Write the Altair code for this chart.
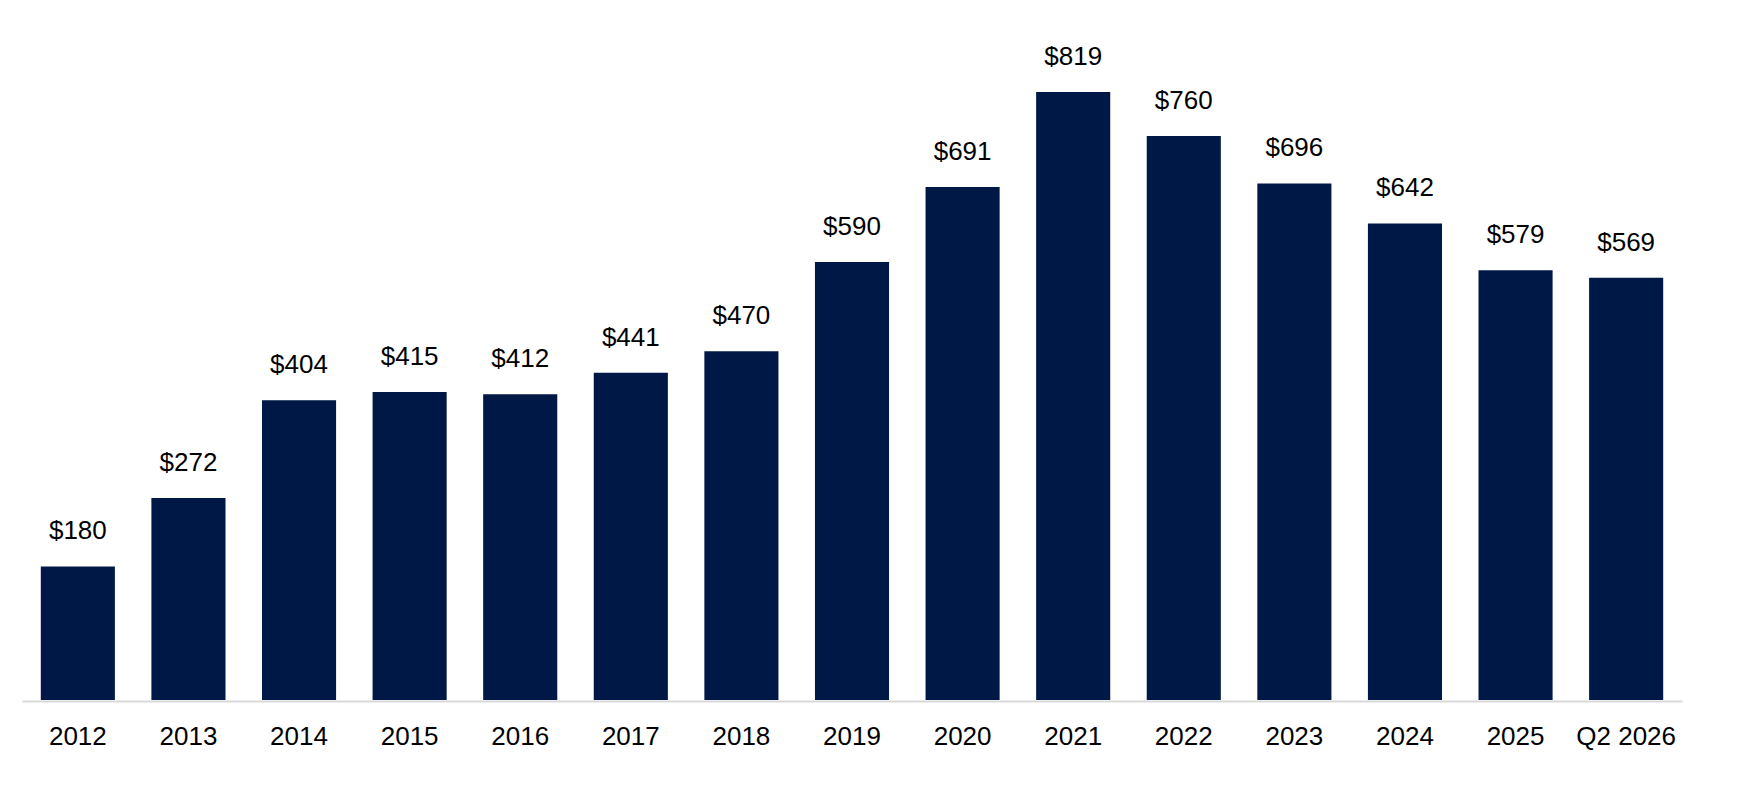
import altair as alt
import pandas as pd

categories = ["2012", "2013", "2014", "2015", "2016", "2017", "2018", "2019",
              "2020", "2021", "2022", "2023", "2024", "2025", "Q2 2026"]
values = [180, 272, 404, 415, 412, 441, 470, 590, 691, 819, 760, 696, 642, 579, 569]

df = pd.DataFrame({"category": categories, "value": values})

FONT = "Liberation Sans"

base = alt.Chart(df).encode(
    x=alt.X("category:N", sort=categories,
            scale=alt.Scale(paddingInner=0.33, paddingOuter=0.17),
            axis=alt.Axis(title=None, ticks=False, labelAngle=0, labelFontSize=26,
                          labelFont=FONT, labelColor="#000000", labelPadding=22,
                          domainColor="#d9d9d9", domainWidth=2, offset=1,
                          grid=False)),
    y=alt.Y("value:Q", scale=alt.Scale(domain=[0, 900], nice=False),
            axis=None),
)

bars = base.mark_bar(color="#001845")

labels = base.transform_calculate(
    label="'$' + datum.value"
).mark_text(
    baseline="alphabetic", align="center", dy=-27,
    fontSize=26, font=FONT, color="#000000"
).encode(text="label:N")

chart = (bars + labels).properties(
    width=1660, height=668,
    padding={"left": 14, "top": 24, "right": 5, "bottom": 5},
    background="#ffffff",
).configure_view(stroke=None, strokeWidth=0)

chart.save("out.html", embed_options={"renderer": "svg", "actions": False})
